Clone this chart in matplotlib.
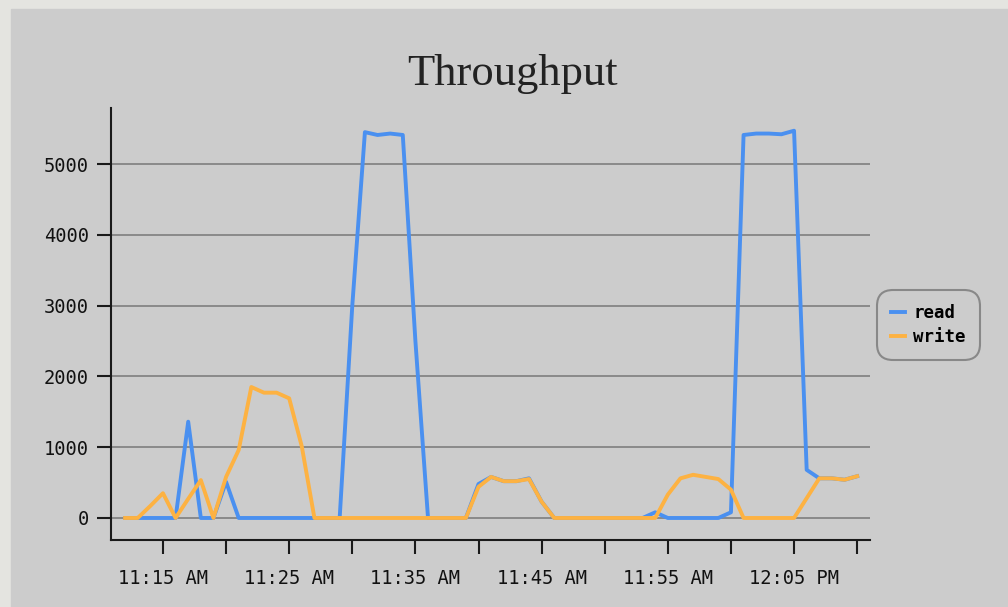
# Throughput 차트 다시 그리기
import numpy as np
import pandas as pd
import matplotlib
matplotlib.use("Agg")
import matplotlib.pyplot as plt
import matplotlib.dates as mdates
from matplotlib.patches import Rectangle

# 데이터 (1분 간격, 11:12 ~ 12:10)
start_time = "2000-01-01 11:12"
n_points = 59
times = pd.date_range(start_time, periods=n_points, freq="min")

read = [0, 0, 0, 0, 0, 1360, 0, 0, 510, 0,
        0, 0, 0, 0, 0, 0, 0, 0, 3000, 5450,
        5410, 5430, 5410, 2500, 0, 0, 0, 0, 480, 580,
        520, 520, 560, 230, 0, 0, 0, 0, 0, 0,
        0, 0, 80, 0, 0, 0, 0, 0, 80, 5410,
        5430, 5430, 5420, 5470, 680, 560, 560, 540, 590]

write = [0, 0, 170, 350, 0, 270, 535, 0, 580, 960,
         1850, 1770, 1770, 1690, 1010, 0, 0, 0, 0, 0,
         0, 0, 0, 0, 0, 0, 0, 0, 440, 580,
         520, 520, 550, 230, 0, 0, 0, 0, 0, 0,
         0, 0, 0, 330, 560, 610, 580, 550, 400, 0,
         0, 0, 0, 0, 280, 560, 560, 540, 590]

series_names = ["read", "write"]
series_colors = ["#4a90f0", "#fdb242"]
y_ticks = [0, 1000, 2000, 3000, 4000, 5000]

W, H = 1008, 607
fig = plt.figure(figsize=(W / 100, H / 100), dpi=100, facecolor="#e4e4e0")
# 회색 배경판 (축 뒤에 깔기)
fig.patches.append(Rectangle((11 / W, 0), 1 - 11 / W, 1 - 9 / H,
                             transform=fig.transFigure, color="#cccccc", zorder=-5))

ax = fig.add_axes([111 / W, 1 - 540 / H, (870 - 111) / W, (540 - 108) / H])
ax.set_facecolor("none")
ax.set_zorder(1)

ax.plot(times, read, color=series_colors[0], lw=2.8, label=series_names[0],
        solid_joinstyle="round", zorder=3)
ax.plot(times, write, color=series_colors[1], lw=2.8, label=series_names[1],
        solid_joinstyle="round", zorder=4)

# 축 범위
x0 = pd.Timestamp("2000-01-01 11:10:53")
x1 = pd.Timestamp("2000-01-01 12:11:01")
ax.set_xlim(x0, x1)
ax.set_ylim(-311, 5791)

ax.set_yticks(y_ticks)
ax.grid(axis="y", color="#858585", lw=1.3)
ax.set_axisbelow(True)

ax.xaxis.set_major_locator(mdates.MinuteLocator(byminute=[5, 15, 25, 35, 45, 55]))
ax.xaxis.set_minor_locator(mdates.MinuteLocator(byminute=[0, 10, 20, 30, 40, 50]))
ax.xaxis.set_major_formatter(mdates.DateFormatter("%I:%M %p"))

for s in ["top", "right"]:
    ax.spines[s].set_visible(False)
for s in ["left", "bottom"]:
    ax.spines[s].set_color("#1a1a1a")
    ax.spines[s].set_linewidth(1.5)

ax.tick_params(axis="both", which="both", direction="out", length=10,
               width=1.5, color="#1a1a1a")
ax.tick_params(axis="x", which="major", pad=11)
ax.tick_params(axis="y", pad=6)
for lab in ax.get_xticklabels() + ax.get_yticklabels():
    lab.set_family("DejaVu Sans Mono")
    lab.set_fontsize(13.5)
    lab.set_color("#111111")

# 제목
fig.text(512 / W, 1 - 74 / H, "Throughput", ha="center", va="center",
         family="Liberation Serif", fontsize=32, color="#222222")

# 범례
leg = ax.legend(loc="center left", bbox_to_anchor=(877 / W, 1 - 325 / H),
                bbox_transform=fig.transFigure, frameon=True, fancybox=True,
                prop={"family": "DejaVu Sans Mono", "size": 12.5, "weight": "bold"},
                handlelength=0.8, handletextpad=0.5, labelspacing=0.35,
                borderpad=0.8, borderaxespad=0)
frame = leg.get_frame()
frame.set_facecolor("#cccccc")
frame.set_edgecolor("#888888")
frame.set_linewidth(1.5)
frame.set_alpha(1)
frame.set_boxstyle("round", pad=0, rounding_size=0.9)

plt.savefig("out.png", dpi=100, facecolor=fig.get_facecolor())
